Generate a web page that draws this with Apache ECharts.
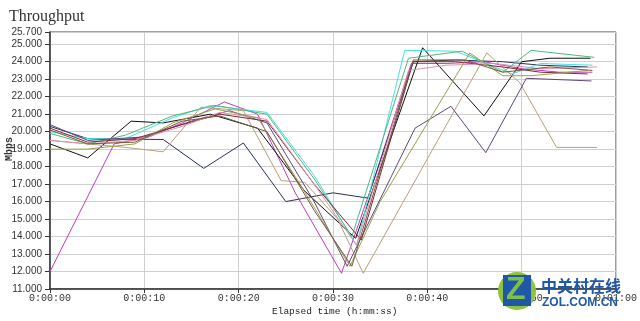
<!DOCTYPE html>
<html>
<head>
<meta charset="utf-8">
<script src="https://cdn.jsdelivr.net/npm/echarts@6/dist/echarts.min.js"></script>
<style>html,body{margin:0;padding:0;background:#fff}#c{width:640px;height:321px}</style>
</head>
<body>
<div id="c"></div>
<script>
// ---- data (time in seconds, throughput in Mbps) ----
const yTicksMin = 11, yTicksMax = 25.7, yStep = 1;
const xMin = 0, xMax = 60, xStep = 10;

const magenta = [[0,12.0],[6.8,19.3],[10.5,19.7],[14,20.5],[18.5,21.7],[22,21.0],[26,16.5],[30.9,11.9],[34.5,17.5],[38.3,23.9],[42,23.9],[46,24.0],[50,23.6],[54,23.4],[57.5,23.4]];
const black = [[0,19.3],[4,18.5],[8.6,20.6],[12,20.5],[17,21.0],[22,20.2],[27,16.6],[32.4,13.9],[39.5,24.8],[46,20.9],[50,24.0],[53,24.2],[57.3,24.2]];
const navy = [[0,20.3],[4,19.6],[12,19.55],[16.3,17.9],[20.5,19.35],[25,16.0],[30,16.5],[33.7,16.2],[38.5,24.0],[43,24.1],[48,24.0],[52,23.8],[57,23.7]];
const cyan = [[0,20.0],[4,19.6],[8,19.6],[13,20.8],[17,21.5],[23,21.1],[28,17.5],[32.5,13.5],[37.6,24.65],[43,24.6],[49,23.3],[52,23.9],[57.5,23.8]];
const green = [[0,19.9],[4,19.3],[8,19.8],[13,20.9],[17.5,21.5],[23,21.0],[28,17.3],[32,14.0],[38,24.2],[43.7,24.6],[48,23.4],[51,24.65],[57.7,24.25]];
const tan = [[0,19.5],[4,19.3],[8,19.1],[12,18.85],[16,21.4],[20.5,21.2],[24.5,17.2],[27,17.1],[30.5,15.0],[33.2,11.9],[46.3,24.5],[49.8,22.8],[53.7,19.1],[58,19.1]];
const purple = [[0,20.4],[4,19.5],[10,19.7],[15,20.6],[19,21.2],[23,20.5],[28,16.0],[31.5,12.3],[38.7,20.2],[42.5,21.45],[46.2,18.8],[50.5,23.05],[57.4,22.9]];
const darkred = [[0,20.2],[4,19.4],[9,19.6],[14,20.4],[18,21.0],[23,20.6],[28,17.0],[33,13.8],[38.5,24.0],[43,24.0],[48,23.7],[52,23.4],[57,23.3]];
const pink = [[0,19.5],[4,19.3],[9,19.5],[14,20.3],[18,21.1],[23,20.7],[28,17.0],[32.5,13.5],[38,23.5],[42,23.8],[47,23.9],[52,23.6],[58,23.7]];
const olive = [[0,19.0],[4,19.0],[9,19.3],[13,20.5],[17.5,21.3],[22,20.8],[26.5,17.0],[31.8,12.3],[35,16.0],[44.5,24.5],[48,23.2],[51,23.2],[57,23.5]];
const brown = [[0,20.1],[4,19.3],[9,19.4],[14,20.6],[18,20.9],[23,20.0],[28,15.5],[32,12.3],[38.5,24.1],[44,24.1],[48,23.4],[53,23.7],[57.5,23.5]];

const seriesNames = ['magenta','black','navy','cyan','green','tan','purple','darkred','pink','olive','brown'];
const seriesData = [magenta, black, navy, cyan, green, tan, purple, darkred, pink, olive, brown];
const seriesColors = ['#c03cc0','#101010','#2a3258','#48e0e0','#50b880','#b8a078','#604878','#802838','#e090b0','#98a050','#7a5a3a'];

function fmtTime(s){
  const m = Math.floor(s/60), sec = Math.round(s%60);
  return '0:' + String(m).padStart(2,'0') + ':' + String(sec).padStart(2,'0');
}

const chart = echarts.init(document.getElementById('c'), null, {renderer:'canvas'});
chart.setOption({
  animation:false,
  backgroundColor:'#fff',
  title:{text:'Throughput', left:4, top:4, textStyle:{fontFamily:'Liberation Serif', fontSize:16, fontWeight:'normal', color:'#333'}},
  grid:{left:50, right:19, top:32, bottom:32, show:true, borderColor:'#444', borderWidth:1},
  xAxis:{
    type:'value', min:xMin, max:xMax, interval:xStep,
    axisLine:{lineStyle:{color:'#333', width:1.5}},
    axisTick:{show:true, length:4, lineStyle:{color:'#333'}},
    axisLabel:{formatter:fmtTime, fontFamily:'Liberation Mono', fontSize:10, color:'#333', margin:4},
    splitLine:{lineStyle:{color:'#cfcfcf', width:1}}
  },
  yAxis:{
    type:'value', min:yTicksMin, max:yTicksMax, interval:yStep,
    axisLine:{show:true, lineStyle:{color:'#333', width:1.5}},
    axisTick:{show:true, length:5, lineStyle:{color:'#333'}},
    axisLabel:{formatter:v=>v.toFixed(3), fontFamily:'Liberation Sans', fontSize:10, color:'#333', margin:8, showMaxLabel:true},
    splitLine:{lineStyle:{color:'#cfcfcf', width:1}}
  },
  series: seriesData.map((d,i)=>({
    name:seriesNames[i], type:'line', data:d, showSymbol:false, symbol:'none',
    lineStyle:{width:1, color:seriesColors[i]}, itemStyle:{color:seriesColors[i]}
  })),
  graphic:[
    {type:'text', left:4, top:137, rotation:Math.PI/2, style:{text:'Mbps', fontFamily:'Liberation Mono', fontSize:10, fontWeight:'bold', fill:'#333'}},
    {type:'text', left:272, top:306, style:{text:'Elapsed time (h:mm:ss)', fontFamily:'Liberation Mono', fontSize:9.5, fill:'#222'}},
    {type:'circle', shape:{cx:517, cy:291, r:19}, style:{fill:'#8cc43c'}, z:100},
    {type:'rect', shape:{x:503, y:275, width:28, height:31}, style:{fill:'#1f58a8'}, z:101},
    {type:'text', left:506, top:274, style:{text:'Z', fontFamily:'Liberation Sans', fontSize:32, fontWeight:'bold', fill:'#7cc04a'}, z:102},
    {type:'text', left:541, top:278, style:{text:'中关村在线', fontFamily:'Noto Sans CJK SC', fontSize:16, fontWeight:'bold', fill:'#1f58a8'}, z:102},
    {type:'text', left:542, top:297, style:{text:'ZOL.COM.CN', fontFamily:'Liberation Sans', fontSize:12, fontWeight:'bold', fill:'#1f58a8'}, z:102}
  ]
});
</script>
</body>
</html>
